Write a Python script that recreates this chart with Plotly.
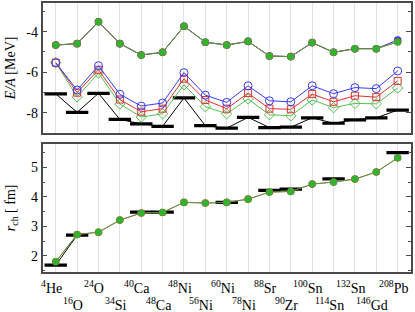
import plotly.graph_objects as go

nuclei = ["<sup>4</sup>He", "<sup>16</sup>O", "<sup>24</sup>O", "<sup>34</sup>Si", "<sup>40</sup>Ca",
          "<sup>48</sup>Ca", "<sup>48</sup>Ni", "<sup>56</sup>Ni", "<sup>60</sup>Ni", "<sup>78</sup>Ni",
          "<sup>88</sup>Sr", "<sup>90</sup>Zr", "<sup>100</sup>Sn", "<sup>114</sup>Sn", "<sup>132</sup>Sn",
          "<sup>146</sup>Gd", "<sup>208</sup>Pb"]
idx = list(range(len(nuclei)))

# Binding energy per nucleon [MeV]
E_exp = [-7.07, -7.98, -7.04, -8.33, -8.55, -8.67, -7.27, -8.64, -8.76, -8.23,
         -8.73, -8.71, -8.25, -8.52, -8.35, -8.25, -7.87]
E_filled_blue = [-4.66, -4.59, -3.51, -4.59, -5.15, -5.02, -3.73, -4.52, -4.66, -4.48,
                 -5.20, -5.23, -4.54, -5.02, -4.84, -4.84, -4.41]
E_filled_red = [-4.66, -4.59, -3.51, -4.59, -5.15, -5.02, -3.73, -4.52, -4.66, -4.48,
                -5.20, -5.23, -4.54, -5.02, -4.84, -4.84, -4.50]
E_filled_green = [-4.66, -4.59, -3.51, -4.59, -5.15, -5.02, -3.73, -4.52, -4.66, -4.48,
                  -5.20, -5.23, -4.54, -5.02, -4.84, -4.84, -4.51]
E_blue = [-5.53, -6.88, -5.68, -7.09, -7.67, -7.52, -6.02, -7.13, -7.49, -6.67,
          -7.41, -7.46, -6.67, -7.06, -6.76, -6.81, -5.94]
E_red = [-5.53, -7.01, -5.88, -7.35, -7.95, -7.80, -6.32, -7.37, -7.80, -7.03,
         -7.80, -7.83, -7.08, -7.46, -7.16, -7.23, -6.43]
E_green = [-5.53, -7.22, -6.04, -7.57, -8.21, -8.05, -6.62, -7.70, -8.05, -7.32,
           -8.10, -8.15, -7.37, -7.75, -7.54, -7.56, -6.78]

# Charge radii [fm]
r_exp = [1.68, 2.70, None, None, 3.48, 3.48, None, None, 3.81, None,
         4.22, 4.26, None, 4.61, None, None, 5.50]
r_red = [1.80, 2.72, 2.80, 3.21, 3.45, 3.47, 3.81, 3.79, 3.81, 3.92,
         4.16, 4.18, 4.43, 4.50, 4.60, 4.84, 5.32]
r_green = [1.80, 2.72, 2.80, 3.21, 3.45, 3.47, 3.81, 3.79, 3.81, 3.92,
           4.16, 4.18, 4.43, 4.50, 4.60, 4.84, 5.32]

BLUE = "#3a3aee"
RED = "#e03030"
GREEN = "#36b030"
GREEN_OPEN = "#55c050"
GREEN_LINE = "#4a9e3a"
BLACK = "#000000"
FONT = "Liberation Serif"

fig = go.Figure()

def exp_trace(y, xa, ya):
    return go.Scatter(x=idx, y=y, xaxis=xa, yaxis=ya, mode="lines+markers",
                      connectgaps=False,
                      line=dict(color=BLACK, width=1),
                      marker=dict(symbol="line-ew", size=16,
                                  line=dict(color=BLACK, width=3.2)),
                      showlegend=False, hoverinfo="skip")

# ---- top panel ----
fig.add_trace(exp_trace(E_exp, "x", "y"))
fig.add_trace(go.Scatter(x=idx, y=E_green, mode="lines+markers",
                         line=dict(color=GREEN_OPEN, width=1),
                         marker=dict(symbol="diamond-open", size=8, color=GREEN_OPEN,
                                     line=dict(width=1)),
                         showlegend=False))
fig.add_trace(go.Scatter(x=idx, y=E_red, mode="lines+markers",
                         line=dict(color=RED, width=1),
                         marker=dict(symbol="square-open", size=7, color=RED,
                                     line=dict(width=1)),
                         showlegend=False))
fig.add_trace(go.Scatter(x=idx, y=E_blue, mode="lines+markers",
                         line=dict(color=BLUE, width=1),
                         marker=dict(symbol="circle-open", size=8, color=BLUE,
                                     line=dict(width=1)),
                         showlegend=False))
fig.add_trace(go.Scatter(x=idx, y=E_filled_blue, mode="lines+markers",
                         line=dict(color=BLUE, width=1),
                         marker=dict(symbol="circle", size=7.6, color=BLUE),
                         showlegend=False))
fig.add_trace(go.Scatter(x=idx, y=E_filled_red, mode="lines+markers",
                         line=dict(color=RED, width=0.8),
                         marker=dict(symbol="circle", size=7.6, color=RED),
                         showlegend=False))
fig.add_trace(go.Scatter(x=idx, y=E_filled_green, mode="lines+markers",
                         line=dict(color=GREEN_LINE, width=1),
                         marker=dict(symbol="circle", size=7.2, color=GREEN),
                         showlegend=False))

# ---- bottom panel ----
fig.add_trace(exp_trace(r_exp, "x2", "y2"))
fig.add_trace(go.Scatter(x=idx, y=r_red, xaxis="x2", yaxis="y2", mode="lines+markers",
                         line=dict(color=RED, width=0.8),
                         marker=dict(symbol="circle", size=7.6, color=RED),
                         showlegend=False))
fig.add_trace(go.Scatter(x=idx, y=r_green, xaxis="x2", yaxis="y2", mode="lines+markers",
                         line=dict(color=GREEN_LINE, width=1),
                         marker=dict(symbol="circle", size=7.2, color=GREEN),
                         showlegend=False))

W, H = 415, 312
xl, xr = 42.5 / W, 410.7 / W
top_dom = [1 - 133 / H, 1 - 3.3 / H]
bot_dom = [1 - 272.3 / H, 1 - 144 / H]
xrange = [-0.62, 16.61]
BORDER = "#4a4a4a"

xcommon = dict(range=xrange, showgrid=True, gridcolor="#e2e2e2", gridwidth=1,
               tick0=0, dtick=1, showticklabels=False, ticks="",
               showline=True, linecolor=BORDER, linewidth=1.5, mirror=True,
               zeroline=False, domain=[xl, xr])
ycommon = dict(showgrid=False, zeroline=False, showline=True, linecolor=BORDER,
               linewidth=1.5, mirror="ticks", ticks="inside", ticklen=5,
               tickcolor=BORDER, tickwidth=1,
               tickfont=dict(family=FONT, size=14, color="#000"))

fig.update_layout(
    width=W, height=H,
    margin=dict(l=0, r=0, t=0, b=0),
    paper_bgcolor="white", plot_bgcolor="white",
    font=dict(family=FONT, size=14, color="#000"),
    xaxis=dict(**xcommon, anchor="y"),
    yaxis=dict(**ycommon, domain=top_dom, range=[-9.0, -2.6], anchor="x",
               tickvals=[-8, -6, -4], ticktext=["-8", "-6", "-4"],
               minor=dict(tickvals=[-9, -7, -5, -3], ticks="inside", ticklen=3,
                          tickcolor=BORDER, showgrid=False)),
    xaxis2=dict(**xcommon, anchor="y2"),
    yaxis2=dict(**ycommon, domain=bot_dom, range=[1.44, 5.79], anchor="x2",
                tickvals=[2, 3, 4, 5], ticktext=["2", "3", "4", "5"],
                minor=dict(tickvals=[1.5, 2.5, 3.5, 4.5, 5.5], ticks="inside", ticklen=3,
                           tickcolor=BORDER, showgrid=False)),
)

annotations = []
for i, lab in enumerate(nuclei):
    row_y = 1 - 287 / H if i % 2 == 0 else 1 - 304 / H
    annotations.append(dict(x=i, xref="x2", y=row_y, yref="paper", text=lab,
                            showarrow=False, xanchor="center", yanchor="middle",
                            xshift=-4, font=dict(family=FONT, size=14, color="#000")))

annotations.append(dict(x=10 / W, xref="paper", y=(top_dom[0] + top_dom[1]) / 2, yref="paper",
                        text="<i>E/A</i> [MeV]", textangle=-90, showarrow=False,
                        xanchor="center", yanchor="middle",
                        font=dict(family=FONT, size=14, color="#000")))
annotations.append(dict(x=11 / W, xref="paper", y=(bot_dom[0] + bot_dom[1]) / 2, yref="paper",
                        text="<i>r</i><sub>ch</sub> [ fm]", textangle=-90, showarrow=False,
                        xanchor="center", yanchor="middle",
                        font=dict(family=FONT, size=14, color="#000")))
fig.update_layout(annotations=annotations)

fig.write_html("out.html", config={"displayModeBar": False},
               post_script="document.body.style.margin='0';document.body.style.overflow='hidden';")
